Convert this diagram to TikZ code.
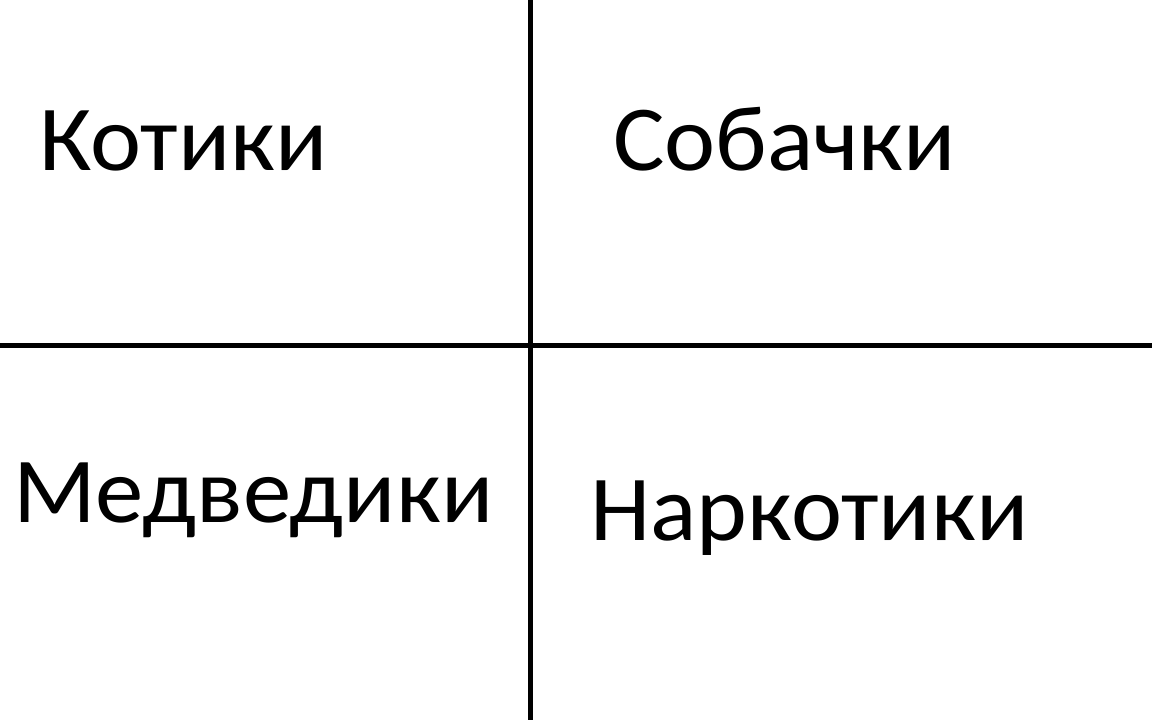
\documentclass[tikz,border=0pt]{standalone}
\usepackage{fontspec}
\setmainfont{Carlito}
\begin{document}
\begin{tikzpicture}[x=1pt,y=-1pt,
  word/.style={anchor=base west,inner sep=0pt,xscale=1.04,font=\fontsize{93}{100}\selectfont},
  rule/.style={line width=5pt,black}]
\useasboundingbox[fill=white] (0,0) rectangle (1152,720);
\coordinate (vt) at (530,0);
\coordinate (vb) at (530,720);
\coordinate (hl) at (0,345);
\coordinate (hr) at (1152,345);
\draw[rule] (vt) -- (vb);
\draw[rule] (hl) -- (hr);
\node[word] (kot) at (39,170) {Котики};
\node[word] (sob) at (613,170) {Собачки};
\node[word] (med) at (13,522) {Медведики};
\node[word] (nar) at (590,540) {Наркотики};
\end{tikzpicture}
\end{document}
